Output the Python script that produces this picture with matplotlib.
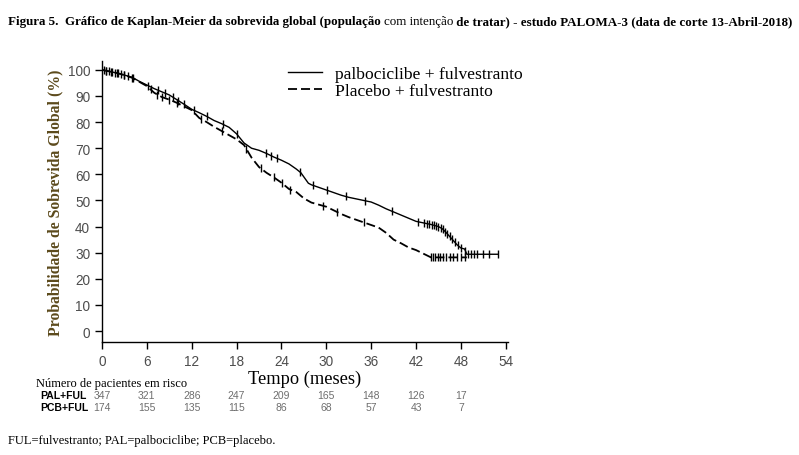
import numpy as np
import matplotlib
matplotlib.use("Agg")
import matplotlib.pyplot as plt

# ---------------- data ----------------
pal_t = [0, 1, 2, 3, 4, 5, 6, 7, 8, 9, 10, 11, 12, 13, 14, 15, 16, 17, 18, 19, 20,
         21, 22, 23, 24, 25, 26, 26.6, 27.6, 28, 29, 30, 31, 32, 33, 34, 35, 36, 37, 38, 39,
         40, 41, 42, 43, 44, 45, 45.5, 46, 46.5, 47, 47.5, 48, 48.5, 48.8, 53]
pal_s = [100, 99.4, 98.8, 98.0, 97.2, 95.6, 94.2, 92.8, 91.6, 90.4, 88.6, 86.8, 84.9,
         83.6, 82.2, 80.6, 79.4, 78.0, 75.5, 72.0, 70.0, 69.2, 68.0, 66.6, 65.4, 64.0,
         62.0, 60.6, 56.6, 56.0, 55.0, 54.0, 53.0, 52.0, 51.2, 50.6, 50.0, 49.4, 48.2, 46.8,
         45.6, 44.4, 43.2, 42.0, 41.4, 40.8, 40.0, 39.2, 37.8, 36.2, 34.6, 33.0, 31.8,
         31.4, 29.4, 29.4]
pal_cens = [0.3, 0.6, 1.0, 1.3, 1.8, 2.2, 2.6, 3.0, 3.5, 4.2, 6.2, 7.5, 8.4, 9.5, 10.2,
            11.0, 12.3, 14.0, 16.2, 18.0, 22.0, 22.6, 23.4, 26.5, 28.2, 30.1, 32.6, 35.2,
            38.8, 42.2, 43.0, 43.4, 43.8, 44.1, 44.4, 44.7, 45.0, 45.3, 45.6, 45.9, 46.2,
            46.5, 46.8, 47.2, 47.6, 48.0, 48.6, 49.0, 49.4, 49.8, 50.2, 51.0, 51.8, 53.0]

pcb_t = [0, 1, 2, 3, 4, 5, 6, 7, 8, 9, 10, 11, 12, 13, 14, 15, 16, 17, 18, 19, 20,
         21, 22, 23, 24, 25, 26, 27, 28, 29, 30, 31, 32, 33, 34, 35, 36, 37, 38, 39,
         40, 41, 42, 43, 44, 48.8]
pcb_s = [100, 99.4, 98.8, 98.0, 97.0, 95.4, 93.8, 91.2, 89.6, 88.6, 87.4, 86.0, 84.6,
         81.6, 80.0, 78.2, 76.6, 75.0, 73.4, 71.2, 66.4, 62.8, 60.6, 58.8, 56.8, 54.4,
         53.2, 50.8, 49.2, 48.4, 47.6, 46.2, 44.8, 43.6, 42.6, 41.6, 40.6, 39.6, 37.6,
         35.0, 33.6, 32.0, 31.0, 29.6, 28.2, 28.2]
pcb_cens = [0.5, 1.2, 2.0, 3.0, 4.0, 6.5, 7.4, 8.0, 9.0, 10.0, 13.2, 16.0, 19.3, 21.2,
            23.0, 24.1, 25.2, 29.5, 31.4, 35.0, 44.0, 44.3, 44.6, 44.9, 45.2, 45.6, 46.0,
            46.5, 47.0, 47.5, 48.0, 48.5]

risk_times = [0, 6, 12, 18, 24, 30, 36, 42, 48]
risk_pal = [347, 321, 286, 247, 209, 165, 148, 126, 17]
risk_pcb = [174, 155, 135, 115, 86, 68, 57, 43, 7]

xticks = [0, 6, 12, 18, 24, 30, 36, 42, 48, 54]
yticks = [0, 10, 20, 30, 40, 50, 60, 70, 80, 90, 100]

labels = ["palbociclibe + fulvestranto", "Placebo + fulvestranto"]

# ---------------- figure ----------------
W, H = 799, 456
fig = plt.figure(figsize=(W / 100, H / 100), dpi=100)
ax = fig.add_axes([102 / W, 1 - 343 / H, (508 - 102) / W, (343 - 62) / H])

ax.plot(pal_t, pal_s, color="black", lw=1.0, label=labels[0])
ax.plot(pcb_t, pcb_s, color="black", lw=1.3, dashes=(5, 2.2), label=labels[1])
ax.plot(pal_cens, np.interp(pal_cens, pal_t, pal_s), ls="none", marker="|",
        ms=6, mew=1.0, color="black")
ax.plot(pcb_cens, np.interp(pcb_cens, pcb_t, pcb_s), ls="none", marker="|",
        ms=6, mew=1.0, color="black")

ax.set_xlim(0, 54.3)
ax.set_ylim(-4.2, 103.4)
ax.set_xticks(xticks)
ax.set_yticks(yticks)
for s in ["top", "right"]:
    ax.spines[s].set_visible(False)
for s in ["left", "bottom"]:
    ax.spines[s].set_linewidth(1.0)
ax.tick_params(direction="out", length=5, width=1.0, colors="black",
               labelcolor="#4d4d4d", labelsize=9.8)
for lab in ax.get_xticklabels() + ax.get_yticklabels():
    lab.set_family("Liberation Sans")

ax.set_xlabel("Tempo (meses)", family="Liberation Serif", fontsize=13.2, labelpad=1.5)
ax.set_ylabel("Probabilidade de Sobrevida Global (%)", family="Liberation Serif",
              fontsize=11.3, fontweight="bold", color="#5c4a1c", labelpad=3)

leg = fig.legend(*ax.get_legend_handles_labels(), loc="upper left",
                 bbox_to_anchor=(288 / W, 1 - 67 / H), frameon=False,
                 prop={"family": "Liberation Serif", "size": 12.6}, handlelength=1.95,
                 handletextpad=0.75, labelspacing=0.05, borderpad=0, borderaxespad=0)

# risk table
fig.text(36 / W, 1 - 384 / H, "Número de pacientes em risco", family="Liberation Serif",
         fontsize=9, va="center", ha="left")
fig.text(40 / W, 1 - 396 / H, "PAL+FUL", family="Liberation Sans", fontsize=7.5,
         fontweight="bold", va="center", ha="left")
fig.text(40 / W, 1 - 408 / H, "PCB+FUL", family="Liberation Sans", fontsize=7.5,
         fontweight="bold", va="center", ha="left")
for t, a, b in zip(risk_times, risk_pal, risk_pcb):
    xf = ax.transData.transform((t, 0))[0] / W
    fig.text(xf, 1 - 396 / H, str(a), family="Liberation Sans", fontsize=7.5,
             color="#6e6e6e", ha="center", va="center")
    fig.text(xf, 1 - 408 / H, str(b), family="Liberation Sans", fontsize=7.5,
             color="#6e6e6e", ha="center", va="center")

# title in pieces
pieces = [("Figura 5.  Gráfico de Kaplan-Meier da sobrevida global (população ", "bold"),
          ("com intenção", "normal"),
          (" de tratar) - estudo PALOMA-3 (data de corte 13-Abril-2018)", "bold")]
fig.canvas.draw()
r = fig.canvas.get_renderer()
x = 8
for txt, wgt in pieces:
    t = fig.text(x / W, 1 - 22 / H, txt, family="Liberation Serif", fontsize=9.35,
                 fontweight=wgt, va="center", ha="left")
    bb = t.get_window_extent(renderer=r)
    x += bb.width

fig.text(8 / W, 1 - 441 / H, "FUL=fulvestranto; PAL=palbociclibe; PCB=placebo.",
         family="Liberation Serif", fontsize=9, va="center", ha="left")

fig.savefig("out.png", dpi=100)
